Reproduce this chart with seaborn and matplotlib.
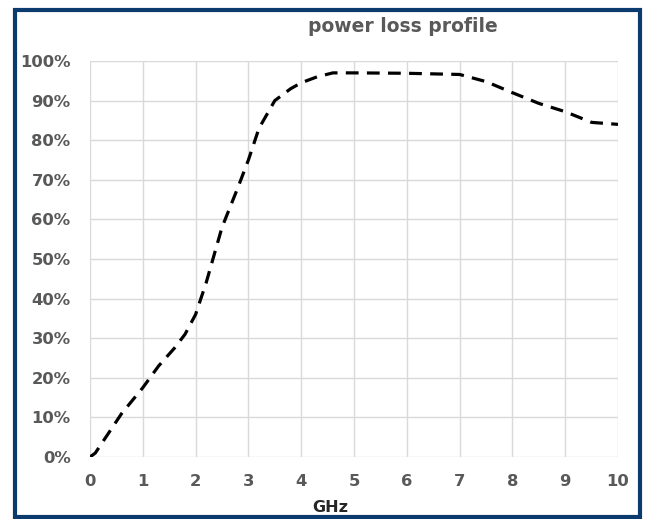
import matplotlib
matplotlib.use("Agg")
import matplotlib.pyplot as plt
import seaborn as sns
import pandas as pd
from matplotlib.patches import Rectangle
from matplotlib.ticker import PercentFormatter

ghz = [0.0, 0.1, 0.3, 0.6, 1.0, 1.3, 1.6, 1.8, 2.0, 2.2, 2.5, 2.8, 3.0, 3.2, 3.5, 3.8, 4.0, 4.3, 4.6, 5.0, 6.0, 7.0, 7.5, 8.0, 8.5, 9.0, 9.5, 10.0]
loss = [0.0, 1.0, 5.0, 11.0, 17.5, 23.0, 27.5, 31.0, 36.0, 44.0, 58.0, 68.0, 75.0, 83.0, 90.0, 93.0, 94.5, 96.0, 97.0, 97.0, 96.9, 96.6, 94.8, 92.0, 89.3, 87.2, 84.5, 84.0]
xticks = list(range(0, 11))
yticks = list(range(0, 101, 10))

df = pd.DataFrame({"GHz": ghz, "loss": loss})

sns.set_theme(style="white")
plt.rcParams["font.family"] = ["DejaVu Sans"]
fig = plt.figure(figsize=(6.48, 5.19), dpi=100)
ax = fig.add_axes([90/648, 1-457/519, 528/648, 396/519])

sns.lineplot(data=df, x="GHz", y="loss", ax=ax, color="black",
             linestyle=(0, (4, 2.6)), linewidth=2.3)

ax.set_xlim(0, 10)
ax.set_ylim(0, 100)
ax.set_xticks(xticks)
ax.set_yticks(yticks)
ax.yaxis.set_major_formatter(PercentFormatter(decimals=0))
ax.grid(True, color="#d9d9d9", linewidth=1)
for s in ax.spines.values():
    s.set_visible(False)
ax.tick_params(axis="both", length=0, labelsize=11.8, labelcolor="#595959")
ax.tick_params(axis="x", pad=12)
ax.tick_params(axis="y", pad=14)
for lab in ax.get_xticklabels() + ax.get_yticklabels():
    lab.set_fontweight("bold")
ax.set_xlabel("")
ax.set_ylabel("")

fig.text(403/648, 1-27/519, "power loss profile", ha="center", va="center",
         fontsize=13.5, fontweight="bold", color="#595959")
fig.text(330/648, 1-507/519, "GHz", ha="center", va="center",
         fontsize=11.5, fontweight="bold", color="#262626")

fig.patches.append(Rectangle((14.5/648, 2.5/519), 625/648, 507/519,
                             transform=fig.transFigure, fill=False,
                             edgecolor="#0b3a6f", linewidth=3, zorder=10))

fig.savefig("out.png", dpi=100, facecolor="white")
